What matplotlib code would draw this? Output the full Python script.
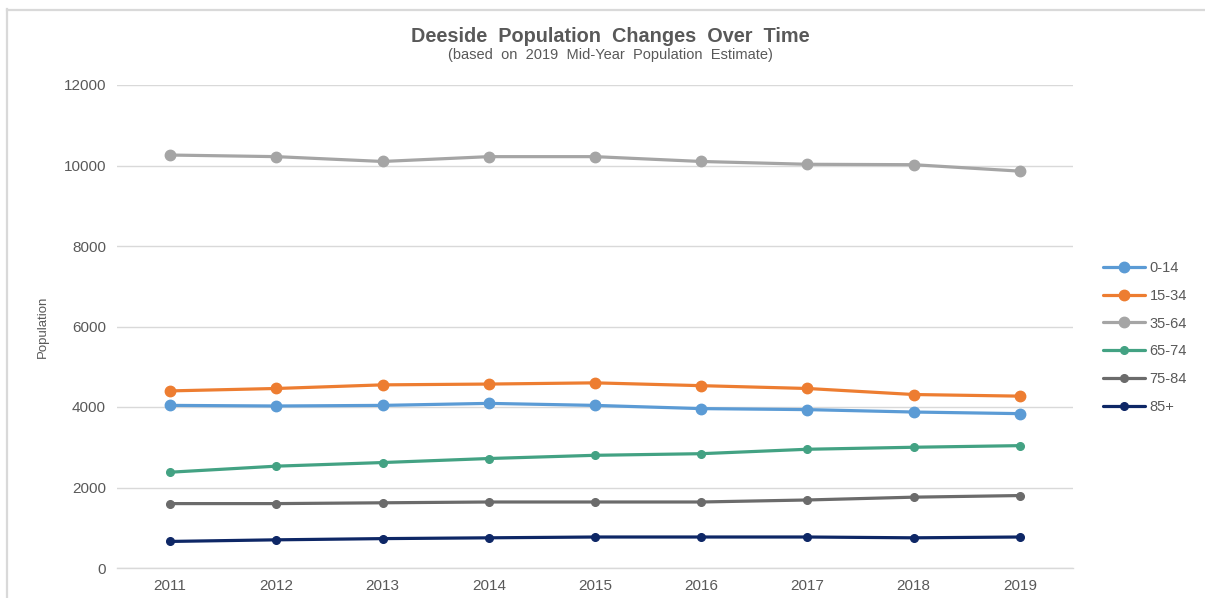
import matplotlib
matplotlib.use("Agg")
import matplotlib.pyplot as plt
from matplotlib.lines import Line2D

plt.rcParams['font.family'] = ['Liberation Sans', 'DejaVu Sans']

years = [2011, 2012, 2013, 2014, 2015, 2016, 2017, 2018, 2019]
age_0_14 = [4040, 4025, 4040, 4090, 4040, 3960, 3935, 3875, 3835]
age_15_34 = [4400, 4460, 4550, 4570, 4600, 4530, 4460, 4310, 4270]
age_35_64 = [10260, 10220, 10100, 10220, 10220, 10100, 10030, 10020, 9860]
age_65_74 = [2380, 2530, 2620, 2720, 2800, 2840, 2950, 3000, 3040]
age_75_84 = [1600, 1600, 1620, 1640, 1640, 1640, 1690, 1760, 1800]
age_85_plus = [660, 700, 730, 750, 770, 770, 770, 750, 770]
y_ticks = [0, 2000, 4000, 6000, 8000, 10000, 12000]

series = [
    ("0-14", age_0_14, "#5B9BD5", 7.5),
    ("15-34", age_15_34, "#ED7D31", 7.5),
    ("35-64", age_35_64, "#A5A5A5", 7.5),
    ("65-74", age_65_74, "#43A283", 5.5),
    ("75-84", age_75_84, "#6B6B6B", 5.5),
    ("85+", age_85_plus, "#0E2766", 5.5),
]

W, H = 1205, 598
fig = plt.figure(figsize=(W / 100, H / 100), dpi=100)
ax = fig.add_axes([117 / W, 1 - 568 / H, (1073 - 117) / W, (568 - 85) / H])

text_col = "#595959"
grid_col = "#D9D9D9"

for label, vals, col, ms in series:
    ax.plot(years, vals, color=col, lw=2.3, marker="o", ms=ms,
            label=label, solid_capstyle="round")

ax.set_xlim(2010.5, 2019.5)
ax.set_ylim(0, 12000)
ax.set_yticks(y_ticks)
ax.set_yticklabels([str(v) for v in y_ticks])
ax.set_xticks(years)
ax.set_xticklabels([str(y) for y in years])
ax.tick_params(axis="both", length=0, labelsize=11, colors=text_col)
ax.tick_params(axis="y", pad=8)
ax.tick_params(axis="x", pad=8)
ax.grid(axis="y", color=grid_col, lw=1)
ax.set_axisbelow(True)
for s in ["top", "right", "left"]:
    ax.spines[s].set_visible(False)
ax.spines["bottom"].set_color(grid_col)
ax.spines["bottom"].set_linewidth(1)

fig.text(43 / W, 1 - 327 / H, "Population", rotation=90, ha="center",
         va="center", fontsize=9.5, color=text_col)

fig.text(610 / W, 1 - 37 / H, "Deeside  Population  Changes  Over  Time",
         ha="center", va="center", fontsize=14.3, fontweight="bold", color=text_col)
fig.text(610 / W, 1 - 55 / H, "(based  on  2019  Mid-Year  Population  Estimate)",
         ha="center", va="center", fontsize=10.5, color=text_col)

leg = fig.legend(loc="upper left", bbox_to_anchor=(1097 / W, 1 - 255 / H),
                 frameon=False, fontsize=10.5, handlelength=2.9,
                 handletextpad=0.3, labelspacing=0.95, borderaxespad=0)
for t in leg.get_texts():
    t.set_color(text_col)

# light frame around the chart area
fig.add_artist(Line2D([7 / W, 1], [1 - 9.5 / H, 1 - 9.5 / H],
                      transform=fig.transFigure, color=grid_col, lw=1.6))
fig.add_artist(Line2D([7.5 / W, 7.5 / W], [0, 1 - 9 / H],
                      transform=fig.transFigure, color=grid_col, lw=1.6))

fig.savefig("out.png", dpi=100, facecolor="white")
